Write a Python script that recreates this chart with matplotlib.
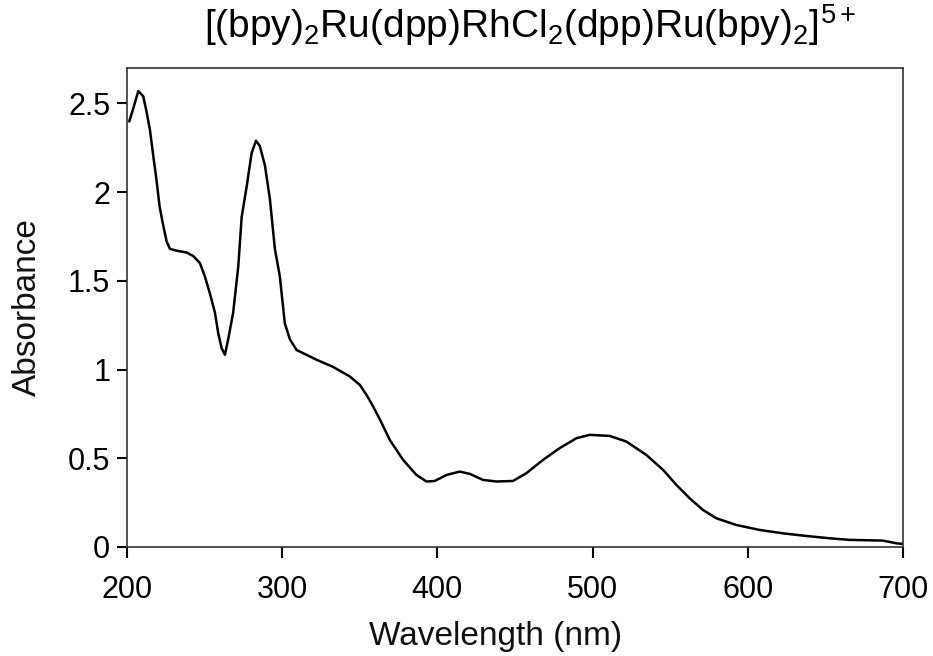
import matplotlib
matplotlib.use("Agg")
import matplotlib.pyplot as plt

# Absorbance spectrum, values
wavelength = [201.5, 204, 207.3, 210.5, 212.7, 214.8, 217, 219, 221, 223.4,
              225.6, 227.7, 232, 238.4, 242.7, 247, 250.2, 253.4, 256.7, 258.8,
              261, 263.1, 265.2, 268.4, 271.7, 273.9, 277.1, 280.3, 283.1, 285.6,
              288.9, 292.1, 295.3, 298.5, 301.7, 305, 309.3, 315.7, 322.2, 332.8,
              343.6, 350, 354.3, 358.6, 362.9, 369.3, 377.9, 386.5, 393, 398.3,
              405.9, 414.4, 420.9, 429.4, 438, 448.7, 457.4, 468.1, 478.8, 489.6,
              498.1, 511, 521.8, 534.6, 545.4, 554, 562.5, 571.1, 579.7, 592.6,
              607.6, 622.6, 637.7, 652.7, 665.6, 687, 695.6, 700]
absorbance = [2.40, 2.47, 2.57, 2.54, 2.45, 2.35, 2.20, 2.07, 1.92, 1.81,
              1.72, 1.68, 1.67, 1.66, 1.64, 1.60, 1.525, 1.43, 1.32, 1.205,
              1.12, 1.083, 1.17, 1.32, 1.58, 1.86, 2.03, 2.22, 2.29, 2.26,
              2.15, 1.96, 1.68, 1.525, 1.26, 1.17, 1.11, 1.083, 1.055, 1.015,
              0.961, 0.914, 0.858, 0.792, 0.72, 0.604, 0.491, 0.406, 0.369, 0.372,
              0.406, 0.425, 0.412, 0.378, 0.369, 0.372, 0.416, 0.491, 0.557, 0.613,
              0.632, 0.626, 0.594, 0.519, 0.435, 0.35, 0.275, 0.209, 0.162, 0.124,
              0.096, 0.077, 0.062, 0.049, 0.040, 0.036, 0.021, 0.017]

xticks = [200, 300, 400, 500, 600, 700]
yticks = [0, 0.5, 1, 1.5, 2, 2.5]
ytick_labels = ["0", "0.5", "1", "1.5", "2", "2.5"]

plt.rcParams['font.family'] = ['Liberation Sans', 'DejaVu Sans']
plt.rcParams['mathtext.fontset'] = 'custom'
plt.rcParams['mathtext.rm'] = 'Liberation Sans'
plt.rcParams['mathtext.it'] = 'Liberation Sans'

fig = plt.figure(figsize=(9.33, 6.56), dpi=100)
ax = fig.add_axes([0.1361, 0.1662, 0.8317, 0.7302])

ax.plot(wavelength, absorbance, color='black', linewidth=1.8)

ax.set_xlim(200, 700)
ax.set_ylim(0, 2.7)
ax.set_xticks(xticks)
ax.set_yticks(yticks)
ax.set_yticklabels(ytick_labels)
ax.tick_params(axis='both', direction='out', labelsize=22, width=1.5, color='black')
ax.tick_params(axis='x', length=8, pad=12)
ax.tick_params(axis='y', length=7, pad=5)

for side in ax.spines.values():
    side.set_color('#333333')
    side.set_linewidth(1.2)

ax.set_xlabel('Wavelength (nm)', fontsize=24, color='#111111')
ax.set_ylabel('Absorbance', fontsize=24, color='#111111')
ax.xaxis.set_label_coords(0.475, -0.155)
ax.yaxis.set_label_coords(-0.108, 0.5)

fig.text(0.568, 0.942,
         r'[(bpy)$_2$Ru(dpp)RhCl$_2$(dpp)Ru(bpy)$_2$]$^{5+}$',
         ha='center', va='baseline', fontsize=28)

fig.savefig('out.png', dpi=100, facecolor='white')
